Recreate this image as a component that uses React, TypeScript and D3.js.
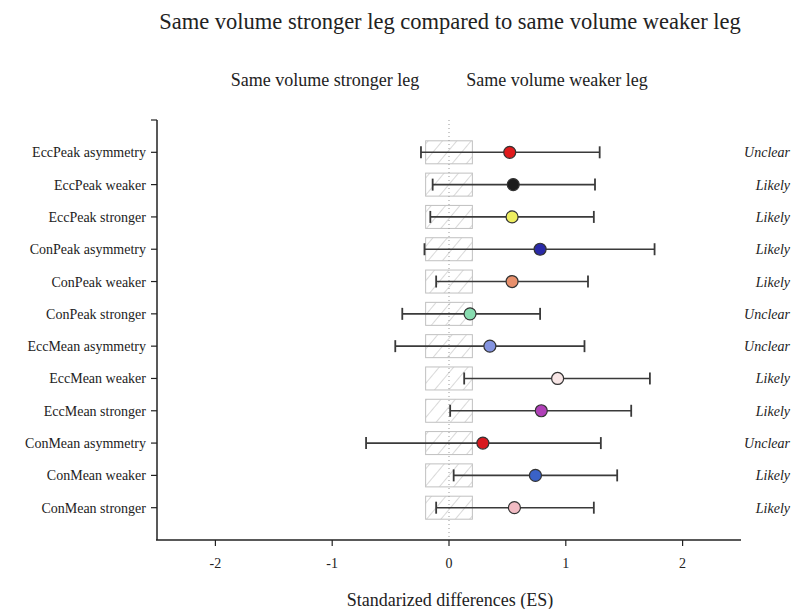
import React from 'react';
import * as d3 from 'd3';

const categories = [
  'EccPeak asymmetry',
  'EccPeak weaker',
  'EccPeak stronger',
  'ConPeak asymmetry',
  'ConPeak weaker',
  'ConPeak stronger',
  'EccMean asymmetry',
  'EccMean weaker',
  'EccMean stronger',
  'ConMean asymmetry',
  'ConMean weaker',
  'ConMean stronger',
];
const means = [0.52, 0.55, 0.54, 0.78, 0.54, 0.18, 0.35, 0.93, 0.79, 0.29, 0.74, 0.56];
const lowers = [-0.24, -0.14, -0.16, -0.21, -0.11, -0.4, -0.46, 0.13, 0.01, -0.71, 0.04, -0.11];
const uppers = [1.29, 1.25, 1.24, 1.76, 1.19, 0.78, 1.16, 1.72, 1.56, 1.3, 1.44, 1.24];
const outcomes = ['Unclear', 'Likely', 'Likely', 'Likely', 'Likely', 'Unclear', 'Unclear', 'Likely', 'Likely', 'Unclear', 'Likely', 'Likely'];
const dotColors = [
  '#e01a1c', '#1c1c1c', '#eeee60', '#2a2aa8', '#e8906c', '#88dcb0',
  '#8494e0', '#f8e6e6', '#b040b8', '#d8181e', '#3a62c8', '#f2bcc4',
];
const xTicks = [-2, -1, 0, 1, 2];
const trivial = [-0.2, 0.2];

const W = 793;
const H = 609;
const serif = { fontFamily: "'Liberation Serif', 'Times New Roman', Times, serif" };

export default function App() {
  const x = d3.scaleLinear().domain([-2.5, 2.5]).range([157, 741]);
  const y = d3.scaleLinear().domain([0, categories.length + 1]).range([120, 540]);
  const yTicks = d3.range(0, categories.length + 1);
  const boxH = 23;
  const capH = 12;

  return (
    <svg width={W} height={H} style={{ position: 'absolute', left: 0, top: 0, background: '#fff' }}>
      <defs>
        <pattern id="hatch" width="11" height="11" patternUnits="userSpaceOnUse" patternTransform="rotate(40)">
          <line x1="0" y1="0" x2="0" y2="11" stroke="#b4b4b4" strokeWidth="1" />
        </pattern>
      </defs>

      {/* titles */}
      <text x={450} y={29} textAnchor="middle" style={serif} fontSize={22.5} fill="#222">
        Same volume stronger leg compared to same volume weaker leg
      </text>
      <text x={325} y={86} textAnchor="middle" style={serif} fontSize={18} fill="#222">
        Same volume stronger leg
      </text>
      <text x={557} y={86} textAnchor="middle" style={serif} fontSize={18} fill="#222">
        Same volume weaker leg
      </text>

      {/* trivial region boxes */}
      {categories.map((c, i) => (
        <rect
          key={'b' + c}
          x={x(trivial[0])}
          y={y(i + 1) - boxH / 2}
          width={x(trivial[1]) - x(trivial[0])}
          height={boxH}
          fill="url(#hatch)"
          stroke="#c0c0c0"
          strokeWidth={1}
        />
      ))}

      {/* zero line */}
      <line x1={x(0)} x2={x(0)} y1={y(0)} y2={y(categories.length + 1)} stroke="#999" strokeWidth={1} strokeDasharray="1,3" />

      {/* axes */}
      <line x1={x(-2.5)} x2={x(-2.5)} y1={y(0)} y2={y(categories.length + 1)} stroke="#222" strokeWidth={1.5} />
      <line x1={x(-2.5) - 1} x2={x(2.5)} y1={y(categories.length + 1)} y2={y(categories.length + 1)} stroke="#222" strokeWidth={1.5} />
      {yTicks.map((t) => (
        <line key={'yt' + t} x1={x(-2.5) - 6} x2={x(-2.5)} y1={y(t)} y2={y(t)} stroke="#222" strokeWidth={1.2} />
      ))}
      {xTicks.map((t) => (
        <g key={'xt' + t}>
          <line x1={x(t)} x2={x(t)} y1={540} y2={546} stroke="#222" strokeWidth={1.2} />
          <text x={x(t)} y={568} textAnchor="middle" style={serif} fontSize={14} fill="#222">
            {t}
          </text>
        </g>
      ))}
      <text x={450} y={606} textAnchor="middle" style={serif} fontSize={18} fill="#222">
        Standarized differences (ES)
      </text>

      {/* rows */}
      {categories.map((c, i) => {
        const cy = y(i + 1);
        return (
          <g key={c}>
            <text x={146} y={cy + 5} textAnchor="end" style={serif} fontSize={14} fill="#222">
              {c}
            </text>
            <line x1={x(lowers[i])} x2={x(uppers[i])} y1={cy} y2={cy} stroke="#3a3a3a" strokeWidth={1.6} />
            <line x1={x(lowers[i])} x2={x(lowers[i])} y1={cy - capH / 2} y2={cy + capH / 2} stroke="#3a3a3a" strokeWidth={1.8} />
            <line x1={x(uppers[i])} x2={x(uppers[i])} y1={cy - capH / 2} y2={cy + capH / 2} stroke="#3a3a3a" strokeWidth={1.8} />
            <circle cx={x(means[i])} cy={cy} r={6} fill={dotColors[i]} stroke="#333" strokeWidth={1.2} />
            <text x={790} y={cy + 5} textAnchor="end" style={serif} fontStyle="italic" fontSize={14} fill="#222">
              {outcomes[i]}
            </text>
          </g>
        );
      })}
    </svg>
  );
}
